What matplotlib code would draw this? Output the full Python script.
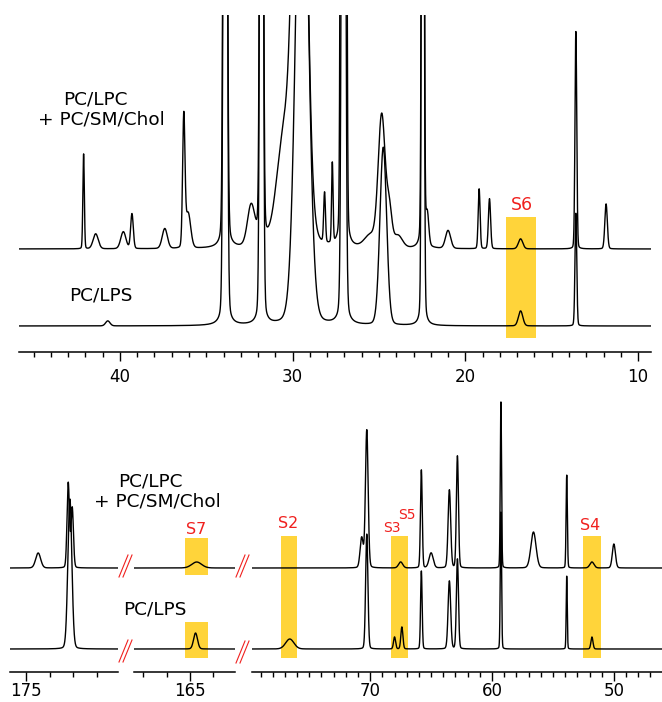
import numpy as np
import matplotlib.pyplot as plt
from matplotlib.patches import Rectangle
from matplotlib.lines import Line2D

# peak lists: (ppm, height, fwhm)
# heights are in panel units (about 1 px) above each trace's own baseline
top_mix_peaks = [(42.1, 95, 0.10), (41.4, 15, 0.35), (39.8, 17, 0.35), (39.3, 35, 0.18),
                 (37.4, 20, 0.35), (36.3, 128, 0.16), (36.05, 35, 0.35),
                 (33.9, 1500, 0.19), (32.4, 40, 0.5), (31.8, 1500, 0.17),
                 (30.5, 105, 1.0), (29.57, 700, 0.8), (28.15, 50, 0.12), (27.7, 80, 0.1),
                 (27.15, 1500, 0.14), (26.95, 1500, 0.14), (25.5, 12, 0.8),
                 (24.84, 132, 0.48), (24.4, 35, 0.35), (23.9, 12, 0.6),
                 (22.46, 1500, 0.13), (22.2, 30, 0.2), (21.0, 18, 0.35),
                 (19.2, 60, 0.13), (18.6, 50, 0.15), (16.8, 10, 0.3),
                 (13.6, 218, 0.12), (11.85, 45, 0.17)]
top_lps_peaks = [(40.7, 5, 0.3), (33.9, 1500, 0.19), (31.8, 1500, 0.17),
                 (29.45, 570, 0.8), (27.05, 1500, 0.2), (24.75, 178, 0.46),
                 (22.46, 1500, 0.13), (16.8, 15, 0.3), (13.6, 113, 0.12)]

bot_mix_peaks = [(174.5, 15, 0.25), (173.22, 85, 0.12), (173.05, 60, 0.12),
                 (164.7, 6, 0.5),
                 (70.7, 30, 0.3), (70.28, 138, 0.26), (67.5, 6, 0.4), (65.8, 98, 0.17),
                 (65.0, 15, 0.4), (63.5, 78, 0.25), (62.84, 112, 0.2), (59.27, 166, 0.12),
                 (56.6, 36, 0.5), (53.87, 93, 0.12), (51.8, 6, 0.4), (50.0, 24, 0.3)]
bot_lps_peaks = [(173.15, 150, 0.2), (164.75, 16, 0.2),
                 (76.6, 10, 0.8), (70.28, 115, 0.22), (68.0, 12, 0.2), (67.4, 22, 0.2),
                 (65.8, 78, 0.15), (63.5, 68, 0.25), (62.84, 90, 0.2), (59.27, 137, 0.12),
                 (53.87, 73, 0.1), (51.8, 12, 0.2)]

mix_base = [103, 104]   # top panel, bottom panel
lps_base = [26, 23]

# highlighted signals: label, ppm from, ppm to
top_boxes = [('S6', 17.63, 15.9)]
bot_boxes = [('S2', 77.35, 75.97), ('S3', 68.27, 66.9), ('S4', 52.5, 51.07)]
s7_box = ('S7', 165.2, 164.2)


def spectrum(ppm, peaks, eta=0.1):
    y = np.zeros_like(ppm)
    for c, h, w in peaks:
        d = (ppm - c) / w
        y += h * ((1 - eta) * np.exp(-4 * np.log(2) * d ** 2) + eta / (1 + 4 * d ** 2))
    return y


W, H = 662, 702
fig = plt.figure(figsize=(W / 100, H / 100), dpi=100)
yellow = '#FFD43A'
red = '#F0201E'


def add_ax(x0, x1, y_top, y_axis):
    ax = fig.add_axes([x0 / W, 1 - y_axis / H, (x1 - x0) / W, (y_axis - y_top) / H])
    for s in ['top', 'right', 'left']:
        ax.spines[s].set_visible(False)
    ax.spines['bottom'].set_linewidth(1.1)
    ax.set_yticks([])
    ax.patch.set_alpha(0)
    ax.set_ylim(0, y_axis - y_top)
    ax.tick_params(axis='x', which='major', length=6.5, width=1, labelsize=12)
    ax.tick_params(axis='x', which='minor', length=3.4, width=1)
    return ax


def draw(ax, lo, hi, row):
    ppm = np.linspace(lo, hi, 4000)
    ax.plot(ppm, spectrum(ppm, top_mix_peaks if row == 0 else bot_mix_peaks) + mix_base[row],
            color='k', lw=1.0)
    ax.plot(ppm, spectrum(ppm, top_lps_peaks if row == 0 else bot_lps_peaks) + lps_base[row],
            color='k', lw=1.0)
    ax.set_xlim(lo, hi)


# top panel, 9-46 ppm
ax = add_ax(19, 651, 15, 352)
draw(ax, 45.84, 9.25, 0)
ax.set_xticks([40, 30, 20, 10])
ax.set_xticks(np.arange(10, 46), minor=True)
ax.tick_params(axis='x', which='major', pad=5)
for name, a, b in top_boxes:
    ax.add_patch(Rectangle((a, 14), b - a, 121, color=yellow, lw=0, zorder=0))

# bottom panel, three pieces
ax1 = add_ax(10, 118, 395, 672)
draw(ax1, 175.7, 171.1, 1)
ax1.set_xticks([175])
ax1.set_xticks([174, 173, 172], minor=True)

ax2 = add_ax(134, 235, 395, 672)
draw(ax2, 167.4, 163.05, 1)
ax2.set_xticks([165])
ax2.set_xticks([167, 166, 164], minor=True)
name, a, b = s7_box
ax2.add_patch(Rectangle((a, 97), b - a, 37, color=yellow, lw=0, zorder=0))
ax2.add_patch(Rectangle((a, 14), b - a, 36, color=yellow, lw=0, zorder=0))

ax3 = add_ax(252, 662, 395, 672)
draw(ax3, 79.7, 46.05, 1)
ax3.set_xticks([70, 60, 50])
ax3.set_xticks(np.arange(47, 80), minor=True)
for name, a, b in bot_boxes:
    ax3.add_patch(Rectangle((a, 14), b - a, 122, color=yellow, lw=0, zorder=0))
for a_ in (ax1, ax2, ax3):
    a_.tick_params(axis='x', which='major', pad=0.5)

# break marks
for x0, yb in [(119, 577), (119, 662), (236, 577), (236, 663)]:
    for dx in (0, 4):
        fig.add_artist(Line2D([(x0 + dx) / W, (x0 + dx + 9) / W],
                              [1 - yb / H, 1 - (yb - 22) / H], color=red, lw=0.8))


def label(x, y, s, **kw):
    fig.text(x / W, 1 - y / H, s, ha='center', va='center', **kw)


label(95, 100, 'PC/LPC', fontsize=13.3)
label(101, 120, '+ PC/SM/Chol', fontsize=13.3)
label(101, 296, 'PC/LPS', fontsize=13.3)
label(150, 482, 'PC/LPC', fontsize=13.3)
label(157, 502, '+ PC/SM/Chol', fontsize=13.3)
label(155, 610, 'PC/LPS', fontsize=13.3)

label(522, 205, 'S6', fontsize=12.5, color=red)
label(196, 530, 'S7', fontsize=11.5, color=red)
label(288, 524, 'S2', fontsize=11.5, color=red)
label(392, 528, 'S3', fontsize=10, color=red)
label(407, 515, 'S5', fontsize=10, color=red)
label(590, 525, 'S4', fontsize=11.5, color=red)

plt.savefig('out.png', dpi=100)
